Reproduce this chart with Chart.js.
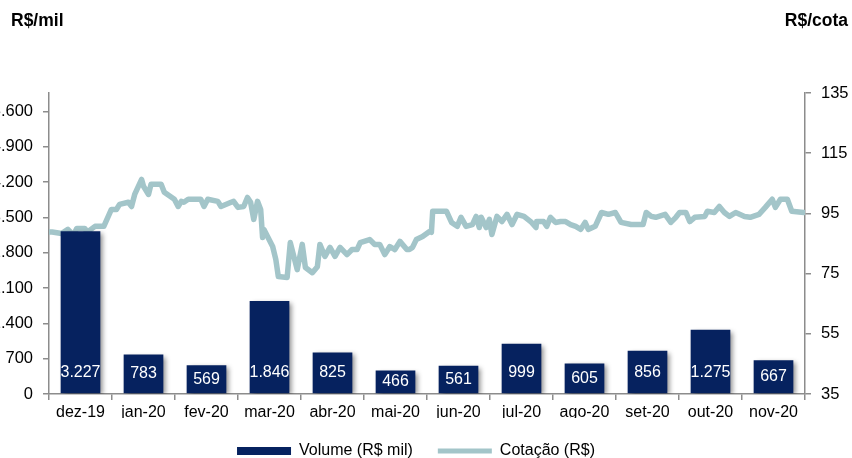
<!DOCTYPE html>
<html><head><meta charset="utf-8">
<script src="https://cdn.jsdelivr.net/npm/chart.js@4.4.1/dist/chart.umd.min.js"></script>
<style>
html,body{margin:0;padding:0;overflow:hidden;background:#fff;width:852px;height:458px}
#wrap{position:absolute;left:0;top:0;width:852px;height:469px}
</style></head><body>
<div id="wrap"><canvas id="c"></canvas></div>
<script>
const meses = ['dez-19','jan-20','fev-20','mar-20','abr-20','mai-20','jun-20','jul-20','ago-20','set-20','out-20','nov-20'];
const volume = [3227,783,569,1846,825,466,561,999,605,856,1275,667];
const ticksVolume = [0,700,1400,2100,2800,3500,4200,4900,5600];
const ticksCotacao = [35,55,75,95,115,135];
// posição no eixo em meses (0 = início de dez-19, 12 = fim de nov-20)
const cotacaoPos = [0.00,0.05,0.20,0.30,0.39,0.44,0.57,0.60,0.73,0.87,0.99,1.07,1.12,1.26,1.31,1.36,1.47,1.50,1.58,1.62,1.78,1.83,1.99,2.05,2.10,2.14,2.21,2.41,2.46,2.52,2.68,2.73,2.89,2.93,3.00,3.09,3.15,3.20,3.25,3.31,3.36,3.39,3.41,3.55,3.60,3.64,3.78,3.83,3.94,4.02,4.07,4.18,4.26,4.30,4.38,4.46,4.54,4.62,4.73,4.81,4.89,4.94,5.09,5.17,5.25,5.33,5.41,5.49,5.57,5.68,5.72,5.77,5.83,5.93,6.04,6.07,6.09,6.31,6.39,6.48,6.54,6.62,6.72,6.78,6.83,6.86,6.94,6.99,7.03,7.11,7.19,7.27,7.35,7.43,7.54,7.66,7.73,7.74,7.85,7.90,7.96,8.04,8.12,8.20,8.28,8.36,8.44,8.51,8.56,8.67,8.77,8.88,8.99,9.08,9.24,9.43,9.48,9.56,9.63,9.78,9.87,9.95,10.01,10.11,10.17,10.25,10.41,10.45,10.56,10.64,10.72,10.80,10.90,11.04,11.13,11.27,11.37,11.48,11.53,11.61,11.72,11.79,11.98];
const cotacaoValor = [88.8,88.8,88.3,89.7,87.7,90,90,88.7,90.7,90.7,96.3,96.3,98,98.7,97.3,101.3,106.3,104,101.3,104.7,104.7,102,99.7,97.3,99,98.7,99.7,99.7,97.3,99.7,99,97.3,98.7,99,97,97.3,100.3,98.7,93,99,96.3,87,89.7,84,79.7,74,73.7,85.3,76.3,84.7,77,75.3,77.3,84.7,80.7,83.7,80.7,83.7,81.3,83,83,85.3,86.3,84.7,84.7,81.3,84,83,85.7,83,83,83.7,86.3,87.3,89,88.7,95.7,95.7,92,90.7,93.7,90.7,91.3,94,90.3,93.7,90.3,93,88,94,92.3,94.7,91.3,94.7,94,92,90.3,92.3,92.3,90.7,93.7,92,92.3,92.3,91.3,90.7,89.7,92,89.7,90.7,95.3,94.7,95.3,92,91.3,91.3,95.3,94,93.7,94.7,92,93.7,95.3,95.3,92.3,93.7,94,95.7,95.3,97.3,95.3,94,95.3,94,93.7,94.7,97,99.7,97,99.7,99.7,95.7,95.3];

const corBarra = '#06225f';
const corLinha = '#a3c5c9';
const corEixo = '#8c8c8c';
const FONT = '"Liberation Sans", Arial, sans-serif';

function fmt(v){ return String(v).replace(/\B(?=(\d{3})+(?!\d))/g,'.'); }

Chart.defaults.font.family = FONT;
Chart.defaults.font.size = 16;
Chart.defaults.color = '#000';

const shadowPlugin = {
  id:'shadow',
  beforeDatasetDraw(chart,args){
    if(args.index===0){
      const ctx=chart.ctx; ctx.save();
      ctx.shadowColor='rgba(0,0,0,0.45)'; ctx.shadowBlur=5; ctx.shadowOffsetX=3; ctx.shadowOffsetY=2;
    }
  },
  afterDatasetDraw(chart,args){ if(args.index===0) chart.ctx.restore(); }
};
const labelsPlugin = {
  id:'barLabels',
  afterDatasetsDraw(chart){
    const ctx=chart.ctx; const meta=chart.getDatasetMeta(0);
    ctx.save(); ctx.fillStyle='#fff'; ctx.font='16px '+FONT; ctx.textAlign='center'; ctx.textBaseline='middle';
    meta.data.forEach((bar,i)=>{
      const base=bar.base; const yc=(bar.y+base)/2; const y=Math.max(yc, base-21);
      ctx.fillText(fmt(volume[i]), bar.x, y);
    });
    ctx.restore();
  }
};
const titlesPlugin = {
  id:'titles',
  afterDraw(chart){
    const ctx=chart.ctx; ctx.save(); ctx.fillStyle='#000'; ctx.font='bold 17.5px '+FONT; ctx.textBaseline='alphabetic';
    ctx.textAlign='left'; ctx.fillText('R$/mil', 11, 26);
    ctx.textAlign='right'; ctx.fillText('R$/cota', 848, 26);
    ctx.restore();
  }
};
const legendShift = {
  id:'legendShift',
  afterLayout(chart){ const l=chart.legend; if(l){ l.left-=10; l.right-=10; } }
};

new Chart(document.getElementById('c'), {
  type:'bar',
  data:{
    labels: meses,
    datasets:[
      {type:'bar', label:'Volume (R$ mil)', data: volume, backgroundColor: corBarra, borderWidth:0,
       barPercentage:0.63, categoryPercentage:1, grouped:false, xAxisID:'x', yAxisID:'y', order:0},
      {type:'line', label:'Cotação (R$)', data: cotacaoPos.map((p,i)=>({x:p,y:cotacaoValor[i]})),
       borderColor: corLinha, backgroundColor: corLinha, borderWidth:5.5, pointRadius:0, tension:0,
       borderJoinStyle:'round', borderCapStyle:'round', xAxisID:'xLine', yAxisID:'y2', order:1}
    ]
  },
  options:{
    responsive:true, maintainAspectRatio:false, animation:false,
    layout:{padding:{top:93,left:0,right:0,bottom:0}},
    plugins:{
      tooltip:{enabled:false},
      legend:{position:'bottom', labels:{usePointStyle:true, pointStyleWidth:54, boxHeight:8, padding:25, color:'#000', font:{size:16},
        generateLabels(chart){
          const items = Chart.defaults.plugins.legend.labels.generateLabels(chart);
          items[0].pointStyle='rect'; items[0].lineWidth=0; items[0].fillStyle=corBarra; items[0].strokeStyle=corBarra;
          items[1].pointStyle='line'; items[1].lineWidth=5; items[1].strokeStyle=corLinha; items[1].fillStyle=corLinha;
          return items;
        }}}
    },
    scales:{
      x:{type:'category', position:'bottom', offset:true,
         grid:{display:true, drawOnChartArea:false, drawTicks:true, tickLength:6, offset:true, color:corEixo, lineWidth:1.5},
         border:{display:true, color:corEixo, width:1.5},
         ticks:{padding:3, color:'#000', font:{size:16}, maxRotation:0, autoSkip:false},
         afterFit(s){ s.height=24; }},
      xLine:{type:'linear', min:0, max:12, display:false, offset:false, grid:{offset:false}},
      y:{position:'left', min:0, max:5970,
         afterBuildTicks(s){ s.ticks = ticksVolume.map(v=>({value:v})); },
         grid:{drawOnChartArea:false, tickLength:6, color:corEixo, lineWidth:1.5},
         border:{display:true, color:corEixo, width:1.5},
         ticks:{padding:10, color:'#000', font:{size:16.5}, callback:(v)=>fmt(v)},
         afterFit(s){ s.width=49; }},
      y2:{position:'right', min:35, max:135,
         afterBuildTicks(s){ s.ticks = ticksCotacao.map(v=>({value:v})); },
         grid:{drawOnChartArea:false, tickLength:6, color:corEixo, lineWidth:1.5},
         border:{display:true, color:corEixo, width:1.5},
         ticks:{padding:10, color:'#000', font:{size:16.5}},
         afterFit(s){ s.width=47; }}
    }
  },
  plugins:[shadowPlugin, labelsPlugin, titlesPlugin, legendShift]
});
</script>
</body></html>
